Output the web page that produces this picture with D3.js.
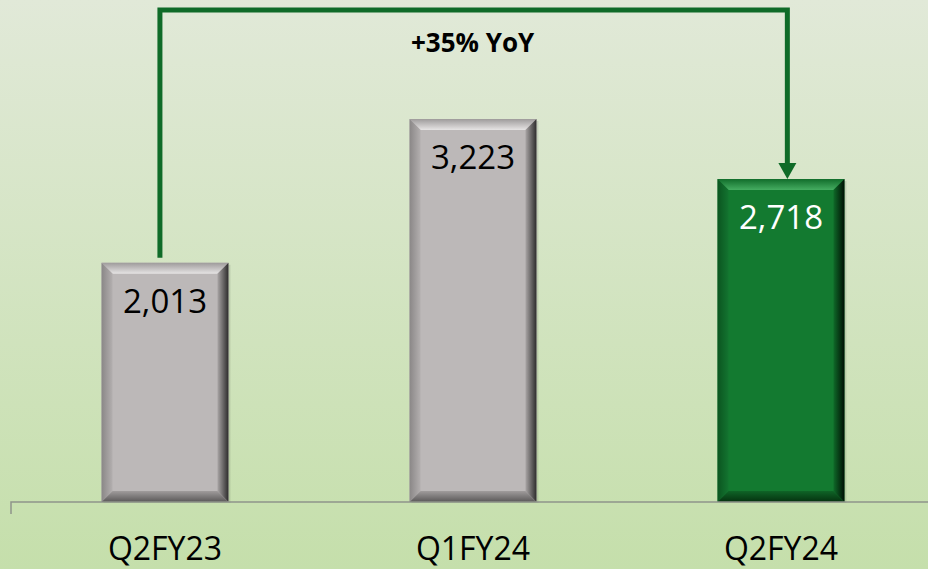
<!DOCTYPE html>
<html>
<head>
<meta charset="utf-8">
<script src="https://cdn.jsdelivr.net/npm/d3@7"></script>
<style>
  html, body { margin: 0; padding: 0; }
  svg { display: block; }
</style>
</head>
<body>
<svg id="chart" width="928" height="569"></svg>
<script>
// data
var categories = ['Q2FY23', 'Q1FY24', 'Q2FY24'];
var values = [2013, 3223, 2718];
var highlight = [false, false, true];
var growthLabel = '+35% YoY';

var width = 928, height = 569;
var svg = d3.select('#chart');
var defs = svg.append('defs');

function grad(id, x1, y1, x2, y2, stops) {
  var g = defs.append('linearGradient').attr('id', id)
    .attr('x1', x1).attr('y1', y1).attr('x2', x2).attr('y2', y2);
  stops.forEach(function(s) {
    g.append('stop').attr('offset', s[0]).attr('stop-color', s[1]);
  });
}

// background gradient
grad('bg', 0, 0, 0, 1, [['0%', '#e1e9d8'], ['100%', '#c5dfab']]);
svg.append('rect').attr('width', width).attr('height', height).attr('fill', 'url(#bg)');

var colors = {
  grey:  { base: '#bcb8b8', top: ['#9e9b9b', '#e6e4e4'], left: ['#8a8787', '#b3afaf'],
           right: ['#2e2d2d', '#a9a5a5'], bottom: ['#5a5858', '#a09c9c'] },
  green: { base: '#137a30', top: ['#116d2b', '#45ad61'], left: ['#0b5520', '#137430'],
           right: ['#000f04', '#0f6a29'], bottom: ['#05310f', '#0f6427'] }
};
Object.keys(colors).forEach(function(k) {
  var c = colors[k];
  grad(k + '-top', 0, 0, 0, 1, [['0%', c.top[0]], ['100%', c.top[1]]]);
  grad(k + '-left', 0, 0, 1, 0, [['0%', c.left[0]], ['100%', c.left[1]]]);
  grad(k + '-right', 1, 0, 0, 0, [['0%', c.right[0]], ['100%', c.right[1]]]);
  grad(k + '-bottom', 0, 1, 0, 0, [['0%', c.bottom[0]], ['100%', c.bottom[1]]]);
});

var x = d3.scaleBand().domain(categories).range([11, 935])
  .paddingInner(0.588).paddingOuter(0.294);
var y = d3.scaleLinear().domain([0, 3223]).range([502, 119]);

var bev = 11;

var bars = svg.append('g').selectAll('g').data(categories).join('g');

bars.each(function(c, i) {
  var g = d3.select(this);
  var x0 = x(c), x1 = x(c) + x.bandwidth();
  var y0 = y(values[i]), y1 = y(0);
  var k = highlight[i] ? 'green' : 'grey';
  var col = colors[k];
  g.append('rect').attr('x', x0 + 2).attr('y', y0 + 2)
    .attr('width', x1 - x0).attr('height', y1 - y0 - 1)
    .attr('fill', 'rgba(0,0,0,0.10)');
  g.append('rect').attr('x', x0).attr('y', y0)
    .attr('width', x1 - x0).attr('height', y1 - y0).attr('fill', col.base);
  var poly = function(pts, fill) {
    g.append('polygon').attr('points', pts.map(function(p) { return p.join(','); }).join(' '))
      .attr('fill', fill);
  };
  poly([[x0, y0], [x1, y0], [x1 - bev, y0 + bev], [x0 + bev, y0 + bev]], 'url(#' + k + '-top)');
  poly([[x0, y0], [x0 + bev, y0 + bev], [x0 + bev, y1 - bev], [x0, y1]], 'url(#' + k + '-left)');
  poly([[x1, y0], [x1, y1], [x1 - bev, y1 - bev], [x1 - bev, y0 + bev]], 'url(#' + k + '-right)');
  poly([[x0, y1], [x0 + bev, y1 - bev], [x1 - bev, y1 - bev], [x1, y1]], 'url(#' + k + '-bottom)');
});

// value labels
bars.append('text')
  .attr('x', function(c) { return x(c) + x.bandwidth() / 2; })
  .attr('y', function(c, i) { return y(values[i]) + 50; })
  .attr('text-anchor', 'middle')
  .attr('font-family', 'Open Sans, sans-serif')
  .attr('font-size', 33)
  .attr('fill', function(c, i) { return highlight[i] ? '#ffffff' : '#000000'; })
  .text(function(c, i) { return d3.format(',')(values[i]); });

// axis baseline
svg.append('path')
  .attr('d', 'M11,514V' + y(0) + 'H' + width)
  .attr('fill', 'none').attr('stroke', '#8f948a').attr('stroke-width', 1.5);

// category labels
svg.append('g').selectAll('text').data(categories).join('text')
  .attr('x', function(c) { return x(c) + x.bandwidth() / 2; })
  .attr('y', 560)
  .attr('text-anchor', 'middle')
  .attr('font-family', 'Open Sans, sans-serif')
  .attr('font-size', 32)
  .attr('fill', '#000')
  .text(function(c) { return c; });

// YoY arrow
var ax0 = x(categories[0]) + x.bandwidth() * 0.46;
var ax1 = x(categories[2]) + x.bandwidth() * 0.55;
var topY = 10;
var tipY = y(values[2]);
var arrowColor = '#0f6b28';
svg.append('path')
  .attr('d', 'M' + ax0 + ',' + (y(values[0]) - 5) + 'V' + topY + 'H' + ax1 + 'V' + (tipY - 14))
  .attr('fill', 'none').attr('stroke', arrowColor).attr('stroke-width', 5);
svg.append('polygon')
  .attr('points', [[ax1 - 9, tipY - 16], [ax1 + 9, tipY - 16], [ax1, tipY]].map(function(p) { return p.join(','); }).join(' '))
  .attr('fill', arrowColor);

svg.append('text')
  .attr('x', (ax0 + ax1) / 2 - 1).attr('y', 52)
  .attr('text-anchor', 'middle')
  .attr('font-family', 'Open Sans, sans-serif')
  .attr('font-weight', 'bold')
  .attr('font-size', 26)
  .attr('fill', '#000')
  .text(growthLabel);
</script>
</body>
</html>
